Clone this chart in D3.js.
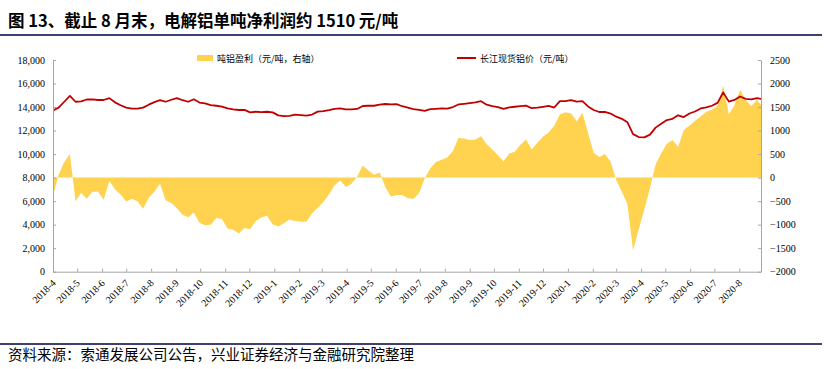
<!DOCTYPE html>
<html>
<head>
<meta charset="utf-8">
<script src="https://cdn.jsdelivr.net/npm/d3@7"></script>
<style>
  body { margin: 0; background: #fff; }
  svg { display: block; }
  .axis text { font-family: "Liberation Serif", "Times New Roman", serif; font-size: 10px; fill: #000; }
  .axis path, .axis line { stroke: #a6a6a6; }
  .cjk { font-family: "Noto Sans CJK SC", sans-serif; fill: #000; }
</style>
</head>
<body>
<svg width="828" height="369"></svg>
<script>
// weekly readings, first week starts 2018-04-01
var startDate = new Date(2018, 3, 1),
    endDate = new Date(2020, 7, 28);

// 长江现货铝价 (元/吨, left axis)
var price = [
  13700, 13950, 14450, 14950, 14450, 14480, 14640, 14660, 14600, 14600,
  14760, 14400, 14150, 13950, 13870, 13860, 13950, 14200, 14420, 14595,
  14450, 14620, 14760, 14580, 14450, 14660, 14380, 14310, 14170, 14110,
  14040, 13880, 13800, 13750, 13760, 13550, 13600, 13560, 13600, 13550,
  13290, 13230, 13250, 13360, 13310, 13270, 13360, 13610, 13660, 13730,
  13850, 13880, 13800, 13800, 13840, 14090, 14110, 14110, 14200, 14260,
  14220, 14250, 14070, 13960, 13830, 13760, 13680, 13830, 13850, 13880,
  13860, 14000, 14220, 14270, 14330, 14400, 14500, 14200, 14080, 14000,
  13840, 13980, 14025, 14080, 14120, 13900, 13950, 14020, 14100, 13960,
  14500, 14510, 14580, 14460, 14500, 14050, 13750, 13580, 13580, 13450,
  13180, 13000, 12700, 11700, 11450, 11420, 11650, 12250, 12580, 12890,
  13000, 13300, 13150, 13450, 13620, 13880, 13980, 14110, 14350, 15250,
  14460, 14600, 14900, 14700, 14650, 14750, 14680
];

// 吨铝盈利 (元/吨, right axis)
var profit = [
  -380, 60, 330, 500, -500, -320, -450, -300, -300, -470,
  -70, -250, -360, -510, -450, -500, -660, -430, -300, -130,
  -480, -540, -650, -790, -840, -740, -960, -1015, -1000, -860,
  -880, -1080, -1110, -1190, -1070, -1100, -920, -850, -810, -990,
  -1040, -970, -890, -920, -940, -940, -760, -640, -520, -360,
  -160, -60, -200, -130, 20, 260, 150, 60, 110, -200,
  -400, -370, -370, -440, -450, -330, -20, 200, 330, 380,
  430, 560, 840, 830, 800, 810, 880, 710, 600, 475,
  350, 510, 550, 700, 810, 600, 740, 870, 960, 1100,
  1340, 1390, 1365, 1200, 1380, 950, 530, 440, 500, 340,
  -50, -300, -560, -1550, -1100, -680, -220, 280, 520, 720,
  800, 650, 1010, 1100, 1210, 1300, 1400, 1440, 1520, 1950,
  1340, 1540, 1860, 1650, 1520, 1650, 1510
];

var leftTicks = [0, 2000, 4000, 6000, 8000, 10000, 12000, 14000, 16000, 18000];
var rightTicks = [-2000, -1500, -1000, -500, 0, 500, 1000, 1500, 2000, 2500];
var monthLabels = [
  "2018-4", "2018-5", "2018-6", "2018-7", "2018-8", "2018-9", "2018-10", "2018-11", "2018-12",
  "2019-1", "2019-2", "2019-3", "2019-4", "2019-5", "2019-6", "2019-7", "2019-8", "2019-9",
  "2019-10", "2019-11", "2019-12", "2020-1", "2020-2", "2020-3", "2020-4", "2020-5", "2020-6",
  "2020-7", "2020-8"
];

var titleText = "图 13、截止 8 月末，电解铝单吨净利润约 1510 元/吨",
    sourceText = "资料来源：索通发展公司公告，兴业证券经济与金融研究院整理",
    profitName = "吨铝盈利（元/吨，右轴）",
    priceName = "长江现货铝价（元/吨）";

var svg = d3.select("svg"),
    plotLeft = 53, plotRight = 761, plotTop = 60, plotBottom = 271.7,
    yellow = "#ffd24f", red = "#c00000";

var parseMonth = d3.timeParse("%Y-%m");

var rows = price.map(function(p, i) {
  return { date: d3.timeDay.offset(startDate, 7 * i), price: p, profit: profit[i] };
});

var x = d3.scaleTime().domain([startDate, endDate]).range([plotLeft, plotRight]);
var yL = d3.scaleLinear().domain([0, 18000]).range([plotBottom, plotTop]);
var yR = d3.scaleLinear().domain([-2000, 2500]).range([plotBottom, plotTop]);

// title + rules
svg.append("text").attr("class", "cjk")
    .attr("x", 8).attr("y", 27)
    .style("font-size", "16.5px").style("font-weight", "bold")
    .text(titleText);
svg.append("line").attr("x1", 0).attr("x2", 822).attr("y1", 35).attr("y2", 35)
    .attr("stroke", "#404070").attr("stroke-width", 2);
svg.append("line").attr("x1", 0).attr("x2", 822).attr("y1", 344).attr("y2", 344)
    .attr("stroke", "#404070").attr("stroke-width", 2);
svg.append("text").attr("class", "cjk")
    .attr("x", 8).attr("y", 360)
    .style("font-size", "14.5px")
    .text(sourceText);

svg.append("clipPath").attr("id", "plot")
  .append("rect").attr("x", plotLeft).attr("y", 0).attr("width", plotRight - plotLeft).attr("height", 369);

var plot = svg.append("g").attr("clip-path", "url(#plot)");

var area = d3.area()
    .x(function(d) { return x(d.date); })
    .y0(yR(0))
    .y1(function(d) { return yR(d.profit); });

plot.append("path").datum(rows)
    .attr("fill", yellow)
    .attr("d", area);

var line = d3.line()
    .x(function(d) { return x(d.date); })
    .y(function(d) { return yL(d.price); });

plot.append("path").datum(rows)
    .attr("fill", "none")
    .attr("stroke", red)
    .attr("stroke-width", 1.8)
    .attr("stroke-linejoin", "round")
    .attr("d", line);

// axes, ticks point inward
svg.append("g").attr("class", "axis")
    .attr("transform", "translate(" + plotLeft + ",0)")
    .call(d3.axisLeft(yL).tickValues(leftTicks).tickFormat(d3.format(",")).tickSize(-3).tickSizeOuter(0).tickPadding(8));

svg.append("g").attr("class", "axis")
    .attr("transform", "translate(" + plotRight + ",0)")
    .call(d3.axisRight(yR).tickValues(rightTicks).tickFormat(d3.format("d")).tickSize(-3).tickSizeOuter(0).tickPadding(9));

var xAxis = svg.append("g").attr("class", "axis")
    .attr("transform", "translate(0," + plotBottom + ")")
    .call(d3.axisBottom(x).tickValues(monthLabels.map(parseMonth)).tickSize(-3).tickSizeOuter(0).tickFormat(d3.timeFormat("%Y-%-m")));

xAxis.selectAll(".tick text")
    .attr("y", 0).attr("dy", 0)
    .attr("text-anchor", "end")
    .attr("transform", "translate(3,12) rotate(-45)");

// legend
var legend = svg.append("g");
legend.append("rect").attr("x", 197).attr("y", 55).attr("width", 16).attr("height", 6).attr("fill", yellow);
legend.append("text").attr("class", "cjk").attr("x", 217).attr("y", 61.5)
    .style("font-size", "9px").text(profitName);
legend.append("line").attr("x1", 457).attr("x2", 476).attr("y1", 58).attr("y2", 58)
    .attr("stroke", red).attr("stroke-width", 2);
legend.append("text").attr("class", "cjk").attr("x", 480).attr("y", 61.5)
    .style("font-size", "9px").text(priceName);
</script>
</body>
</html>
